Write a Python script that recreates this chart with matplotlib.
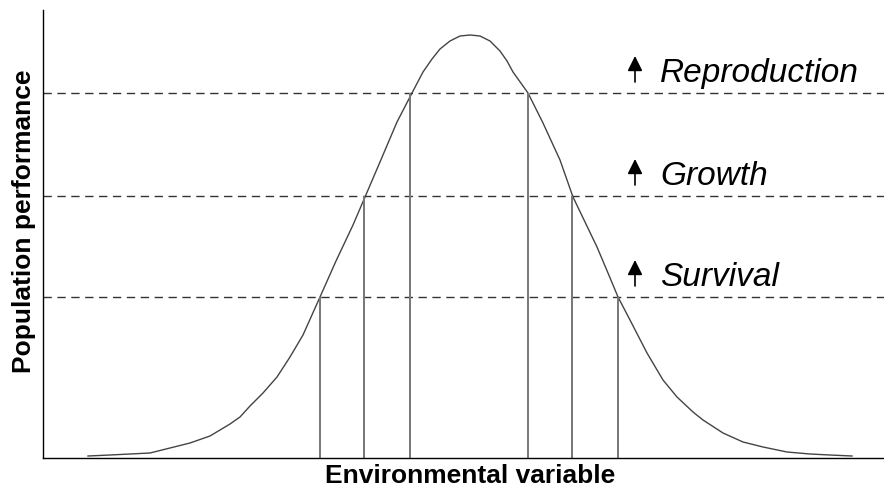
import matplotlib
matplotlib.use("Agg")
import matplotlib.pyplot as plt

plt.rcParams['font.family'] = ['Liberation Sans', 'DejaVu Sans']

# bell curve (x = environmental variable, y = performance)
curve_x = [88, 110, 130, 150, 170, 190, 210, 230, 240, 250, 263, 277, 290, 303,
           320, 336, 353, 365, 380, 397, 412, 423, 432, 440, 450, 460, 470,
           480, 490, 500, 507, 513, 528, 543, 560, 573, 585, 597, 608, 618,
           630, 647, 663, 677, 693, 703, 723, 743, 763, 787, 810, 830, 852]
curve_y = [2, 3, 4, 5, 10, 15, 22, 34, 41, 52, 65, 81, 101, 123,
           161, 197, 233, 261, 296, 336, 365, 386, 399, 409, 417, 422, 423,
           422, 417, 407, 397, 386, 365, 335, 298, 261, 236, 211, 185, 161,
           138, 105, 78, 61, 46, 38, 25, 16, 11, 6, 4, 3, 2]

# thresholds and the range of the variable where each one is reached
levels = ['Survival', 'Growth', 'Reproduction']
level_y = [161, 262, 365]
level_lo = [320, 364, 410]
level_hi = [618, 572, 528]

W, H = 884, 487
fig = plt.figure(figsize=(W / 100, H / 100), dpi=100)
ax = fig.add_axes([43 / W, (H - 458) / H, (W - 43) / W, (458 - 10) / H])
ax.set_xlim(43, 884)
ax.set_ylim(0, 448)

ax.plot(curve_x, curve_y, color='#444444', lw=1.0)

for name, y, lo, hi in zip(levels, level_y, level_lo, level_hi):
    ax.axhline(y, color='#333333', lw=1.0, ls=(0, (6, 4)))
    ax.vlines([lo, hi], 0, y, color='#777777', lw=1.4)
    ax.annotate('', xy=(635, y + 37), xytext=(635, y + 11),
                arrowprops=dict(arrowstyle='-|>,head_length=0.9,head_width=0.45',
                                color='black', lw=1.2, shrinkA=0, shrinkB=0))
    ax.text(660, y + 11, name, style='italic', fontsize=24,
            va='baseline', ha='left', color='black')

ax.set_xticks([])
ax.set_yticks([])
for s in ['top', 'right']:
    ax.spines[s].set_visible(False)
for s in ['left', 'bottom']:
    ax.spines[s].set_linewidth(1.0)
    ax.spines[s].set_color('black')

fig.text(470 / W, 1 - 476 / H, 'Environmental variable', fontsize=19,
         fontweight='bold', ha='center', va='center')
fig.text(24 / W, 1 - 221 / H, 'Population performance', fontsize=19,
         fontweight='bold', ha='center', va='center', rotation=90)

fig.savefig('out.png', dpi=100)
